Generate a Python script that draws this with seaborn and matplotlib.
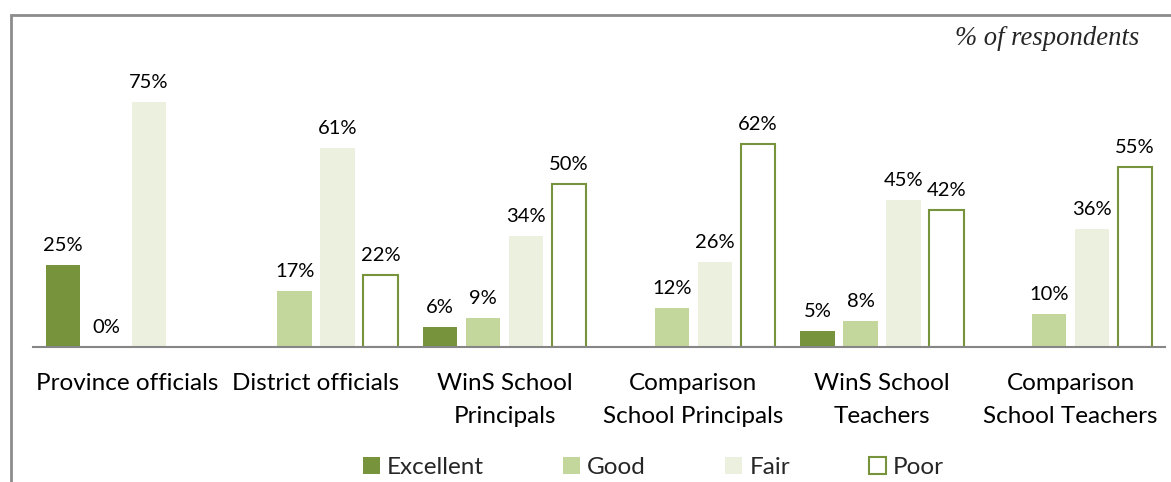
import numpy as np
import pandas as pd
import matplotlib
matplotlib.use("Agg")
import matplotlib.pyplot as plt
from matplotlib.patches import Patch, Rectangle
import seaborn as sns

categories = ["Province officials", "District officials", "WinS School\nPrincipals",
              "Comparison\nSchool Principals", "WinS School\nTeachers", "Comparison\nSchool Teachers"]
series = ["Excellent", "Good", "Fair", "Poor"]
excellent = [25, np.nan, 6, np.nan, 5, np.nan]
good = [0, 17, 9, 12, 8, 10]
fair = [75, 61, 34, 26, 45, 36]
poor = [np.nan, 22, 50, 62, 42, 55]

colors = {"Excellent": "#77933C", "Good": "#C3D69B", "Fair": "#EBF1DE", "Poor": "#FFFFFF"}
edge_green = "#77933C"

rows = []
for name, vals in zip(series, [excellent, good, fair, poor]):
    for c, v in zip(categories, vals):
        rows.append({"category": c, "rating": name, "value": v})
df = pd.DataFrame(rows)

sns.set_theme(style="white")
plt.rcParams["font.family"] = ["Lato", "DejaVu Sans"]

fig = plt.figure(figsize=(11.71, 4.82), dpi=100)
ax = fig.add_axes([0.0282, 0.280, 0.9667, 0.678])

sns.barplot(data=df.dropna(), x="category", y="value", hue="rating", order=categories,
            hue_order=series, palette=colors, width=0.91, ax=ax, legend=False,
            saturation=1, errorbar=None)

for name, cont in zip(series, ax.containers):
    for p in cont.patches:
        p.set_width(p.get_width() * 0.8)
        p.set_x(p.get_x() + p.get_width() * 0.125)
        if name == "Poor":
            p.set_edgecolor(edge_green)
            p.set_linewidth(1.5)
        else:
            p.set_edgecolor("none")
    ax.bar_label(cont, labels=[f"{p.get_height():.0f}%" for p in cont.patches],
                 padding=8, fontsize=14.5, color="#000000")

ax.set_ylim(0, 100)
ax.set_xlim(-0.5, len(categories) - 0.5)
ax.set_xlabel("")
ax.set_ylabel("")
ax.set_yticks([])
for s in ["left", "right", "top"]:
    ax.spines[s].set_visible(False)
ax.spines["bottom"].set_color("#868686")
ax.spines["bottom"].set_linewidth(1.5)
ax.tick_params(axis="x", length=0, pad=19, labelsize=17.5, colors="#000000")
for t in ax.get_xticklabels():
    t.set_linespacing(1.68)

fig.text(0.973, 0.920, "% of respondents", ha="right", va="center",
         fontsize=19.2, style="italic", family=["Liberation Serif", "DejaVu Serif"])

# outer frame
fig.patches.append(Rectangle((11 / 1171, -0.1), 1.2, 1 - 15 / 482 + 0.1,
                             transform=fig.transFigure, fill=False,
                             edgecolor="#8C8C8C", linewidth=2, clip_on=False))

handles = [Patch(facecolor=colors[s], edgecolor=(edge_green if s == "Poor" else "none"),
                 linewidth=1.5) for s in series]
fig.legend(handles, series, loc="center", bbox_to_anchor=(0.558, 0.031), ncol=4,
           frameon=False, fontsize=17.5, columnspacing=3.25, handlelength=0.7,
           handleheight=0.7, handletextpad=0.3)

fig.savefig("out.png", dpi=100)
